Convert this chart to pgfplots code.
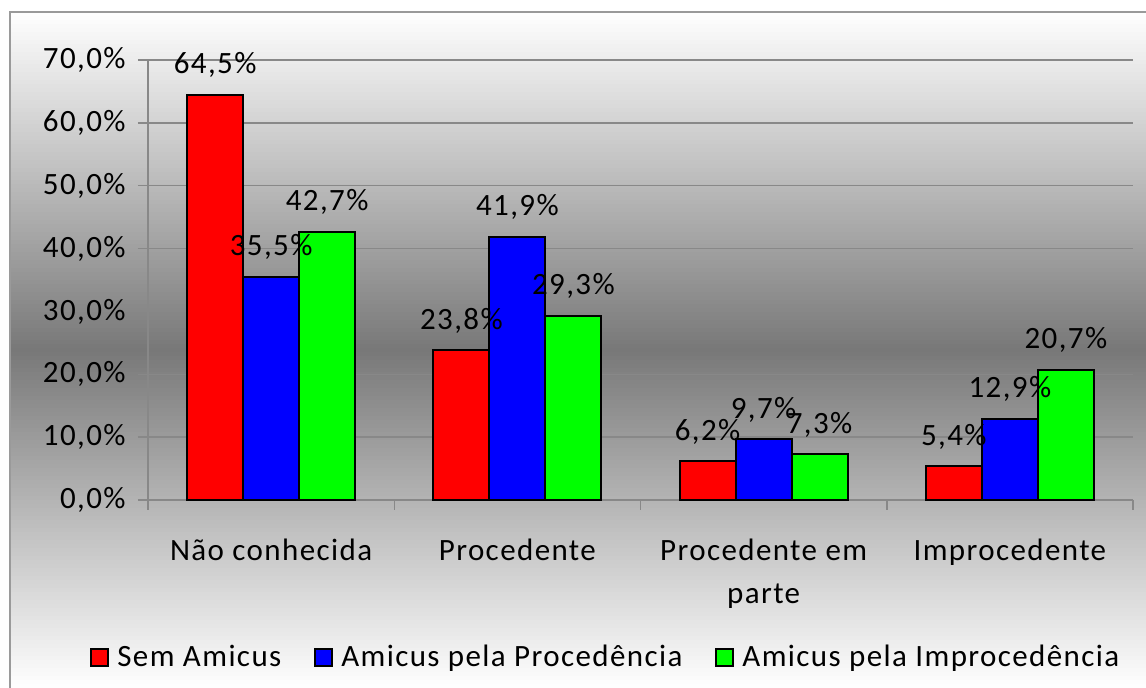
\documentclass[border=0pt]{standalone}
\usepackage{fontspec}
\setmainfont{Carlito}[LetterSpace=4.5]
\usepackage{pgfplots}
\pgfplotsset{compat=1.18}
\usepackage{pgfplotstable}

\definecolor{gridgray}{HTML}{888888}
\definecolor{framegray}{HTML}{9A9A9A}

% percentages per decision type
\pgfplotstableread{
x sem pro imp
0 64.5 35.5 42.7
1 23.8 41.9 29.3
2 6.2 9.7 7.3
3 5.4 12.9 20.7
}\decisoes

\newcommand\lbl{\fontsize{15.5bp}{21.5bp}\selectfont}

\begin{document}
\begin{tikzpicture}
\path[use as bounding box] (0,0) rectangle (573bp,344bp);
% background: white -> gray -> white, in thin strips
\foreach \i in {0,...,168} {
  \pgfmathsetmacro\p{53*(1-abs(\i+0.5-84.5)/84.5)}
  \fill[black!\p] (5bp,\i*2bp) rectangle (573bp,\i*2bp+2.2bp);
}
\draw[framegray, line width=0.75bp] (5bp,0) |- (573bp,338bp);
\begin{axis}[
  at={(74bp,94bp)}, anchor=south west,
  scale only axis, width=492.5bp, height=220bp,
  xmin=-0.5, xmax=3.5, ymin=0, ymax=70,
  clip=false,
  axis lines*=left, axis line style={gridgray, line width=0.75bp},
  ybar=0pt, bar width=28bp,
  xtick={-0.5,0.5,1.5,2.5,3.5}, xticklabels={},
  extra x ticks={0,1,2,3},
  extra x tick labels={Não conhecida, Procedente, {\begin{tabular}[t]{@{}c@{}}Procedente em\\parte\end{tabular}}, Improcedente},
  extra x tick style={major tick length=0pt},
  xticklabel style={anchor=base, yshift=-30bp, font=\lbl},
  ytick={0,10,...,70},
  yticklabel={\pgfmathprintnumber[fixed,fixed zerofill,precision=1,use comma,assume math mode=true]{\tick}\%},
  yticklabel style={anchor=east, inner sep=0pt, xshift=-6bp, font=\lbl},
  major tick length=5bp, tick align=outside,
  tick style={gridgray, line width=0.75bp},
  ymajorgrids, grid style={gridgray, line width=0.75bp},
  nodes near coords={\pgfmathprintnumber[fixed,fixed zerofill,precision=1,use comma,assume math mode=true]{\pgfplotspointmeta}\%},
  nodes near coords align={anchor=base},
  every node near coord/.append style={font=\lbl, yshift=10.5bp, text=black},
  legend columns=-1,
  legend image code/.code={\draw[#1] (0bp,-4.25bp) rectangle (8.5bp,4.25bp);},
  legend style={draw=none, fill=none, inner sep=0pt, font=\lbl,
    at={(-0.0589,-0.357)}, anchor=west,
    /tikz/every odd column/.append style={column sep=2bp},
    /tikz/every even column/.append style={column sep=14.5bp}},
]
\addplot[fill=red, draw=black, line width=1bp, bar shift=-28bp, nodes near coords=] table[x=x,y=sem]{\decisoes};
\addplot[fill=blue, draw=black, line width=1bp, bar shift=0bp, nodes near coords=] table[x=x,y=pro]{\decisoes};
\addplot[fill=green, draw=black, line width=1bp, bar shift=28bp, nodes near coords=] table[x=x,y=imp]{\decisoes};
\legend{Sem Amicus, Amicus pela Procedência, Amicus pela Improcedência}
% labels drawn last so they sit above all bars
\addplot[draw=none, fill=none, bar shift=-28bp, forget plot] table[x=x,y=sem]{\decisoes};
\addplot[draw=none, fill=none, bar shift=0bp, forget plot] table[x=x,y=pro]{\decisoes};
\addplot[draw=none, fill=none, bar shift=28bp, forget plot] table[x=x,y=imp]{\decisoes};
\end{axis}
\end{tikzpicture}
\end{document}
